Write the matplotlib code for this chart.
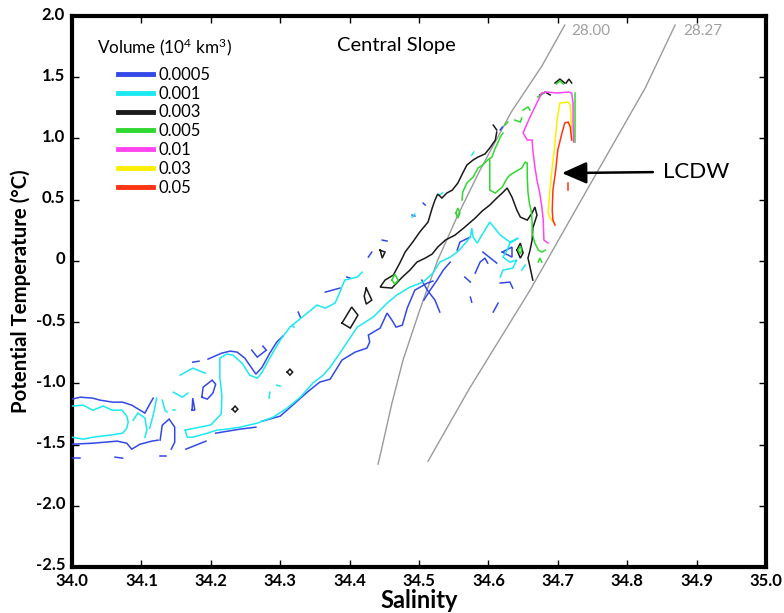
import matplotlib
matplotlib.use("Agg")
import matplotlib.pyplot as plt
from matplotlib.lines import Line2D
from matplotlib.transforms import ScaledTranslation

plt.rcParams['font.family'] = ['Lato', 'DejaVu Sans']
plt.rcParams['mathtext.fontset'] = 'custom'
plt.rcParams['mathtext.rm'] = 'Lato'
plt.rcParams['mathtext.it'] = 'Lato:italic'

TICK_FONT = ['Liberation Sans Narrow', 'Lato', 'DejaVu Sans']

# ---------------------------------------------------------------
# Volume contour levels (10^4 km^3) and their line colours
level_labels = ['0.0005', '0.001', '0.003', '0.005', '0.01', '0.03', '0.05']
level_colors = ['#3448e6', '#1ce8f2', '#1a1a1a', '#2fd82f', '#ff44f0', '#ffee00', '#ff3412']

# Contour traces in (salinity, potential temperature) for each volume level
vol_0005 = [
    [(34.000, -1.129), (34.012, -1.113), (34.030, -1.121), (34.040, -1.137), (34.059, -1.154),
     (34.073, -1.154), (34.086, -1.178), (34.098, -1.219), (34.105, -1.243), (34.112, -1.170),
     (34.117, -1.121)],
    [(34.000, -1.497), (34.030, -1.489), (34.065, -1.472), (34.079, -1.489), (34.086, -1.538),
     (34.098, -1.497), (34.115, -1.472), (34.124, -1.464)],
    [(34.127, -1.464), (34.130, -1.342), (34.140, -1.292), (34.148, -1.358), (34.148, -1.480),
     (34.143, -1.538)],
    [(34.164, -1.538), (34.193, -1.472)],
    [(34.207, -1.407), (34.242, -1.374), (34.265, -1.358)],
    [(34.274, -1.309), (34.300, -1.268), (34.318, -1.178), (34.339, -1.072), (34.357, -0.990),
     (34.372, -0.966), (34.389, -0.810), (34.408, -0.745), (34.425, -0.712), (34.429, -0.663),
     (34.427, -0.606), (34.444, -0.549), (34.454, -0.426), (34.461, -0.484), (34.467, -0.541),
     (34.476, -0.525), (34.483, -0.386), (34.494, -0.239), (34.512, -0.181), (34.520, -0.165)],
    [(34.504, -0.157), (34.512, -0.239), (34.523, -0.320), (34.530, -0.418)],
    [(34.507, -0.320), (34.516, -0.239), (34.526, -0.157), (34.535, -0.075), (34.545, -0.010)],
    [(34.187, -1.113), (34.189, -1.031), (34.202, -0.974), (34.207, -1.007), (34.203, -1.080),
     (34.195, -1.129), (34.187, -1.113)],
    [(34.173, -1.219), (34.174, -1.121), (34.177, -1.219), (34.173, -1.219)],
    [(34.174, -0.827), (34.183, -0.819)],
    [(34.196, -0.802), (34.216, -0.753), (34.228, -0.737), (34.238, -0.745), (34.249, -0.794),
     (34.259, -0.876), (34.265, -0.925), (34.274, -0.868), (34.285, -0.753), (34.295, -0.663),
     (34.304, -0.614)],
    [(34.259, -0.729), (34.267, -0.786), (34.280, -0.729), (34.275, -0.696)],
    [(34.001, -1.611), (34.012, -1.611)],
    [(34.062, -1.603), (34.073, -1.611)],
    [(34.127, -1.595), (34.135, -1.595)],
    [(34.326, -0.418), (34.329, -0.459)],
    [(34.365, -0.255), (34.386, -0.222)],
    [(34.396, -0.132), (34.401, -0.141)],
    [(34.427, 0.031), (34.432, 0.072)],
    [(34.447, 0.170), (34.454, 0.162)],
    [(34.490, 0.374), (34.494, 0.366)],
    [(34.506, 0.472), (34.509, 0.456)],
    [(34.617, 1.069), (34.620, 1.093)],
    [(34.555, 0.088), (34.559, 0.154), (34.574, 0.194)],
    [(34.581, -0.100), (34.588, -0.010), (34.595, 0.023), (34.599, -0.018)],
    [(34.592, 0.072), (34.612, -0.018)],
    [(34.620, 0.072), (34.634, 0.113), (34.634, 0.031), (34.620, 0.072)],
    [(34.617, -0.181), (34.631, -0.173), (34.635, -0.222)],
    [(34.574, -0.296), (34.576, -0.337)],
    [(34.607, -0.418), (34.614, -0.345)],
    [(34.566, -0.132), (34.574, -0.173)],
]

vol_001 = [
    [(34.000, -1.186), (34.016, -1.178), (34.030, -1.219), (34.045, -1.186), (34.058, -1.219),
     (34.072, -1.219), (34.079, -1.268), (34.081, -1.317), (34.079, -1.366), (34.073, -1.407),
     (34.055, -1.423), (34.030, -1.440), (34.016, -1.456), (34.000, -1.440)],
    [(34.088, -1.301), (34.095, -1.243), (34.105, -1.284), (34.108, -1.382), (34.105, -1.440)],
    [(34.122, -1.121), (34.118, -1.235), (34.112, -1.366)],
    [(34.130, -1.137), (34.134, -1.219), (34.137, -1.235)],
    [(34.146, -1.219), (34.149, -1.219)],
    [(34.146, -1.072), (34.159, -1.113), (34.167, -1.080)],
    [(34.156, -0.933), (34.174, -0.876), (34.192, -0.917)],
    [(34.163, -1.382), (34.166, -1.440), (34.174, -1.440), (34.195, -1.407), (34.209, -1.382),
     (34.223, -1.374), (34.242, -1.358), (34.267, -1.325), (34.290, -1.276), (34.310, -1.203),
     (34.329, -1.113), (34.347, -0.998), (34.362, -0.933), (34.372, -0.868), (34.382, -0.786),
     (34.411, -0.541), (34.434, -0.459), (34.454, -0.345), (34.468, -0.279), (34.487, -0.214),
     (34.506, -0.173), (34.520, -0.100), (34.530, -0.010), (34.545, 0.031), (34.555, 0.072),
     (34.562, 0.113), (34.574, 0.194), (34.576, 0.268), (34.578, 0.194), (34.584, 0.145),
     (34.588, 0.186), (34.602, 0.317), (34.617, 0.211), (34.631, 0.154), (34.643, 0.186),
     (34.631, 0.145), (34.627, 0.088), (34.621, 0.031), (34.631, -0.010), (34.641, 0.007),
     (34.635, -0.059), (34.621, -0.075), (34.617, -0.132)],
    [(34.163, -1.382), (34.177, -1.366), (34.200, -1.340), (34.215, -1.250), (34.216, -1.100),
     (34.213, -0.950), (34.213, -0.794), (34.223, -0.761), (34.232, -0.770), (34.245, -0.835),
     (34.256, -0.933), (34.267, -0.958), (34.274, -0.908), (34.285, -0.794), (34.300, -0.647),
     (34.314, -0.541), (34.339, -0.426), (34.353, -0.361), (34.365, -0.386), (34.379, -0.345),
     (34.386, -0.255), (34.393, -0.157), (34.411, -0.132), (34.418, -0.092)],
    [(34.285, -1.072), (34.284, -1.121)],
    [(34.295, -1.015), (34.300, -1.023)],
    [(34.317, -0.525), (34.320, -0.541)],
    [(34.648, -0.075), (34.653, -0.034)],
    [(34.490, 0.358), (34.494, 0.383)],
    [(34.576, 0.864), (34.579, 0.889)],
    [(34.530, 0.540), (34.534, 0.556)],
]

vol_003 = [
    [(34.612, 1.052), (34.610, 0.987), (34.602, 0.922), (34.595, 0.873), (34.585, 0.848),
     (34.578, 0.824), (34.569, 0.783), (34.563, 0.717), (34.556, 0.636), (34.548, 0.578),
     (34.540, 0.554), (34.533, 0.513), (34.527, 0.546), (34.523, 0.497), (34.519, 0.431),
     (34.513, 0.317), (34.501, 0.235), (34.491, 0.154), (34.480, 0.072), (34.473, -0.010),
     (34.463, -0.116), (34.451, -0.157), (34.444, -0.214), (34.461, -0.222), (34.476, -0.132),
     (34.487, -0.075), (34.497, -0.010), (34.509, 0.023), (34.519, 0.056), (34.527, 0.113),
     (34.538, 0.170), (34.552, 0.211), (34.566, 0.276), (34.581, 0.350), (34.591, 0.407),
     (34.602, 0.456), (34.612, 0.513), (34.620, 0.554), (34.627, 0.595), (34.634, 0.521),
     (34.641, 0.415), (34.646, 0.358), (34.656, 0.333), (34.663, 0.391), (34.667, 0.440),
     (34.670, 0.374), (34.664, 0.268), (34.663, 0.170), (34.660, 0.088), (34.657, 0.023),
     (34.660, -0.051), (34.664, -0.157)],
    [(34.389, -0.508), (34.403, -0.377), (34.412, -0.443), (34.401, -0.549), (34.389, -0.508)],
    [(34.424, -0.222), (34.432, -0.320), (34.424, -0.353), (34.421, -0.288), (34.424, -0.222)],
    [(34.444, 0.088), (34.451, 0.072), (34.447, 0.023), (34.444, 0.088)],
    [(34.310, -0.908), (34.314, -0.884), (34.318, -0.908), (34.314, -0.933), (34.310, -0.908)],
    [(34.231, -1.211), (34.235, -1.186), (34.239, -1.211), (34.235, -1.235), (34.231, -1.211)],
    [(34.641, 0.088), (34.646, 0.145), (34.650, 0.064), (34.646, 0.023), (34.641, 0.088)],
    [(34.674, 1.355), (34.682, 1.379), (34.689, 1.355)],
    [(34.696, 1.453), (34.703, 1.485), (34.710, 1.453)],
    [(34.712, 1.453), (34.716, 1.485), (34.720, 1.453)],
    [(34.607, 1.109), (34.612, 1.069)],
]

vol_005 = [
    [(34.562, 0.497), (34.563, 0.562), (34.569, 0.636), (34.578, 0.685), (34.585, 0.758),
     (34.592, 0.783), (34.599, 0.824), (34.605, 0.848), (34.610, 0.922), (34.614, 0.971),
     (34.617, 1.011), (34.621, 1.044)],
    [(34.553, 0.391), (34.556, 0.431), (34.559, 0.391), (34.556, 0.350), (34.553, 0.391)],
    [(34.602, 0.824), (34.602, 0.717), (34.602, 0.578), (34.610, 0.554), (34.620, 0.603),
     (34.627, 0.676), (34.631, 0.701), (34.638, 0.725), (34.648, 0.758), (34.653, 0.807),
     (34.656, 0.799), (34.656, 0.685), (34.657, 0.562), (34.659, 0.472), (34.662, 0.399),
     (34.663, 0.317), (34.663, 0.227), (34.667, 0.145), (34.672, 0.088), (34.677, 0.072),
     (34.682, 0.088)],
    [(34.725, 1.371), (34.725, 0.971)],
    [(34.671, 1.338), (34.680, 1.371)],
    [(34.650, 1.232), (34.657, 1.257), (34.660, 1.232)],
    [(34.638, 1.150), (34.646, 1.134), (34.648, 1.167)],
    [(34.624, 1.109), (34.628, 1.134)],
    [(34.672, -0.010), (34.674, 0.023), (34.677, -0.010)],
    [(34.461, -0.157), (34.465, -0.108), (34.470, -0.157), (34.465, -0.190), (34.461, -0.157)],
    [(34.643, 0.088), (34.646, 0.121), (34.648, 0.088), (34.646, 0.056), (34.643, 0.088)],
    [(34.698, 1.445), (34.703, 1.470), (34.708, 1.445)],
]

vol_01 = [
    [(34.686, 0.145), (34.680, 0.170), (34.679, 0.333), (34.677, 0.440), (34.674, 0.554),
     (34.670, 0.660), (34.667, 0.766), (34.664, 0.905), (34.663, 0.987), (34.656, 0.987),
     (34.650, 1.044), (34.653, 1.085), (34.660, 1.175), (34.667, 1.257), (34.677, 1.371),
     (34.684, 1.379), (34.699, 1.371), (34.715, 1.379), (34.720, 1.371), (34.722, 1.289),
     (34.722, 1.126), (34.723, 0.971)],
]

vol_03 = [
    [(34.695, 0.309), (34.689, 0.350), (34.686, 0.391), (34.689, 0.603), (34.692, 0.766),
     (34.696, 0.962), (34.699, 1.150), (34.703, 1.289), (34.715, 1.297), (34.718, 1.273),
     (34.719, 1.150), (34.720, 0.987)],
]

vol_05 = [
    [(34.696, 0.292), (34.693, 0.333), (34.692, 0.415), (34.693, 0.578), (34.697, 0.742),
     (34.700, 0.905), (34.706, 1.044), (34.710, 1.126), (34.715, 1.134), (34.718, 1.093),
     (34.720, 0.987)],
    [(34.715, 0.636), (34.715, 0.578)],
]

level_traces = [vol_0005, vol_001, vol_003, vol_005, vol_01, vol_03, vol_05]

# Neutral-density isopycnals
iso_2800_s = [34.441, 34.448, 34.461, 34.477, 34.501, 34.527, 34.556, 34.588, 34.633, 34.677, 34.710]
iso_2800_t = [-1.660, -1.489, -1.162, -0.810, -0.402, 0.007, 0.374, 0.742, 1.216, 1.591, 1.926]
iso_2827_s = [34.513, 34.573, 34.660, 34.746, 34.826, 34.869]
iso_2827_t = [-1.636, -1.039, -0.239, 0.619, 1.412, 1.926]

x_ticks = [34.0, 34.1, 34.2, 34.3, 34.4, 34.5, 34.6, 34.7, 34.8, 34.9, 35.0]
x_tick_labels = ['34.0', '34.1', '34.2', '34.3', '34.4', '34.5', '34.6', '34.7', '34.8', '34.9', '35.0']
y_ticks = [2.0, 1.5, 1.0, 0.5, 0.0, -0.5, -1.0, -1.5, -2.0, -2.5]
y_tick_labels = ['2.0', '1.5', '1.0', '0.5', '0', '-0.5', '-1.0', '-1.5', '-2.0', '-2.5']

# ---------------------------------------------------------------
fig = plt.figure(figsize=(7.84, 6.13), dpi=100)
ax = fig.add_axes([72 / 784, 1 - 567 / 613, 694 / 784, 551 / 613])

ax.plot(iso_2800_s, iso_2800_t, color='#9a9a9a', lw=1.0, zorder=1)
ax.plot(iso_2827_s, iso_2827_t, color='#9a9a9a', lw=1.0, zorder=1)
ax.text(34.719, 1.877, '28.00', color='#a0a0a0', fontsize=11, va='center', ha='left')
ax.text(34.881, 1.877, '28.27', color='#a0a0a0', fontsize=11, va='center', ha='left')

for traces, col in zip(level_traces, level_colors):
    for seg in traces:
        s = [p[0] for p in seg]
        t = [p[1] for p in seg]
        ax.plot(s, t, color=col, lw=1.1, zorder=3, solid_joinstyle='miter')

ax.set_xlim(34.0, 35.0)
ax.set_ylim(-2.5, 2.0)
ax.set_xticks(x_ticks)
ax.set_xticklabels(x_tick_labels, fontweight='bold', family=TICK_FONT, fontsize=12)
ax.set_yticks(y_ticks)
ax.set_yticklabels(y_tick_labels, fontweight='bold', family=TICK_FONT, fontsize=12)
ax.tick_params(direction='in', length=5, width=1, top=True, right=True)
ax.tick_params(axis='x', pad=4)
ax.tick_params(axis='y', pad=5)
# value labels on the temperature axis sit a little above their ticks
lift = ScaledTranslation(0, 3 / 100, fig.dpi_scale_trans)
for lbl in ax.get_yticklabels():
    lbl.set_transform(lbl.get_transform() + lift)
for sp in ax.spines.values():
    sp.set_linewidth(3)

ax.set_xlabel('Salinity', fontsize=17, fontweight='bold', labelpad=0)
ax.set_ylabel('Potential Temperature (°C)', fontsize=14.7, fontweight='bold', labelpad=3)

ax.text(34.467, 1.755, 'Central Slope', fontsize=14.5, ha='center', va='center')

# legend
ax.text(0.036, 0.943, r'Volume (10$^{4}$ km$^{3}$)', transform=ax.transAxes,
        fontsize=12.3, ha='left', va='center')
handles = [Line2D([0], [0], color=c, lw=3.5) for c in level_colors]
ax.legend(handles, level_labels, loc='upper left', bbox_to_anchor=(0.066, 0.908),
          frameon=False, fontsize=12, handlelength=2.1, handletextpad=0.35,
          labelspacing=0.17, borderpad=0, borderaxespad=0)

# LCDW annotation
ax.annotate('', xy=(34.706, 0.717), xytext=(34.837, 0.725),
            arrowprops=dict(arrowstyle='-|>,head_length=0.95,head_width=0.42',
                            color='black', lw=1.8, mutation_scale=16, shrinkA=0, shrinkB=0))
ax.text(34.852, 0.725, 'LCDW', fontsize=16, ha='left', va='center')

fig.savefig('out.png', dpi=100)
